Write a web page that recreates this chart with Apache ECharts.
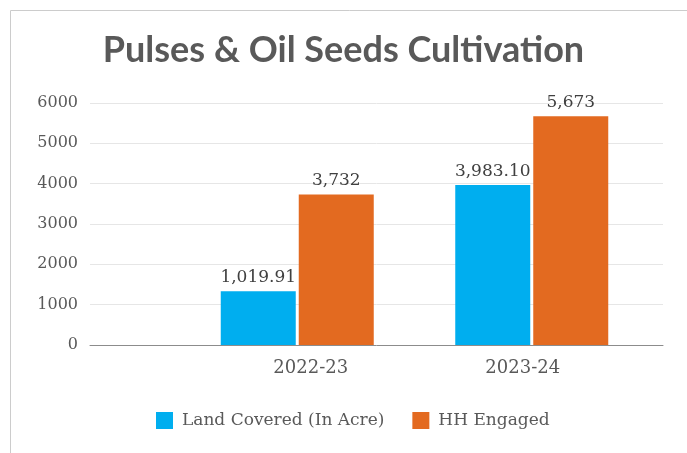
<!DOCTYPE html>
<html>
<head>
<meta charset="utf-8">
<script src="https://cdn.jsdelivr.net/npm/echarts@6/dist/echarts.min.js"></script>
<style>
  html, body { margin: 0; padding: 0; background: #fff; }
  #chart { width: 687px; height: 453px; }
</style>
</head>
<body>
<div id="chart"></div>
<script>
const categories = ['2022-23', '2023-24'];
const landCovered = [1335, 3970];          // bar heights as drawn
const landLabels = ['1,019.91', '3,983.10']; // label text as printed
const hhEngaged = [3732, 5673];
const hhLabels = ['3,732', '5,673'];
const yTicks = { min: 0, max: 6000, interval: 1000 };

const serif = 'DejaVu Serif';
const chart = echarts.init(document.getElementById('chart'));

chart.setOption({
    animation: false,
    title: {
        text: 'Pulses & Oil Seeds Cultivation',
        left: 'center',
        top: 27,
        textStyle: { fontFamily: 'Lato', fontWeight: 'bold', fontSize: 36, color: '#595959' }
    },
    graphic: [{
        type: 'rect',
        shape: { x: 10.5, y: 10.5, width: 700, height: 500 },
        style: { fill: null, stroke: '#cccccc', lineWidth: 1 },
        silent: true
    }],
    legend: {
        top: 407,
        left: 151,
        itemWidth: 17,
        itemHeight: 17,
        itemGap: 28,
        icon: 'rect',
        textStyle: { fontFamily: serif, fontSize: 17, color: '#595959', padding: [0, 0, 0, 4] },
        data: ['Land Covered (In Acre)', 'HH Engaged']
    },
    grid: [
        { left: 90, right: 24, top: 103, bottom: 108 },
        { left: 180, right: 38, top: 103, bottom: 108 }
    ],
    xAxis: [
        {
            gridIndex: 0,
            type: 'category',
            data: [''],
            axisLine: { lineStyle: { color: '#8c8c8c', width: 1 } },
            axisTick: { show: false },
            axisLabel: { show: false }
        },
        {
            gridIndex: 1,
            type: 'category',
            data: categories,
            axisLine: { show: false },
            axisTick: { show: false },
            axisLabel: {
                margin: 14,
                formatter: (v, i) => i === 0 ? '{a|' + v + '}' : '{b|' + v + '}',
                rich: {
                    a: { fontFamily: serif, fontSize: 18, color: '#595959', padding: [0, 0, 0, 27] },
                    b: { fontFamily: serif, fontSize: 18, color: '#595959', padding: [0, 18, 0, 0] }
                }
            }
        }
    ],
    yAxis: [
        {
            gridIndex: 0,
            type: 'value',
            min: yTicks.min, max: yTicks.max, interval: yTicks.interval,
            axisLine: { show: false },
            axisTick: { show: false },
            axisLabel: {
                margin: 12, fontFamily: serif, fontSize: 16, color: '#595959',
                formatter: v => String(v)
            },
            splitLine: { lineStyle: { color: '#e6e6e6', width: 1 } }
        },
        {
            gridIndex: 1,
            type: 'value',
            min: yTicks.min, max: yTicks.max, interval: yTicks.interval,
            show: false,
            splitLine: { show: false }
        }
    ],
    series: [
        {
            name: 'Land Covered (In Acre)',
            type: 'bar',
            xAxisIndex: 1,
            yAxisIndex: 1,
            data: landCovered,
            barWidth: 75,
            barGap: '4%',
            itemStyle: { color: '#00aeef' },
            label: {
                show: true, position: 'top', distance: 5,
                fontFamily: serif, fontSize: 17, color: '#404040',
                formatter: p => landLabels[p.dataIndex]
            }
        },
        {
            name: 'HH Engaged',
            type: 'bar',
            xAxisIndex: 1,
            yAxisIndex: 1,
            data: hhEngaged,
            barWidth: 75,
            itemStyle: { color: '#e36a20' },
            label: {
                show: true, position: 'top', distance: 5,
                fontFamily: serif, fontSize: 17, color: '#404040',
                formatter: p => hhLabels[p.dataIndex]
            }
        }
    ]
});
</script>
</body>
</html>
